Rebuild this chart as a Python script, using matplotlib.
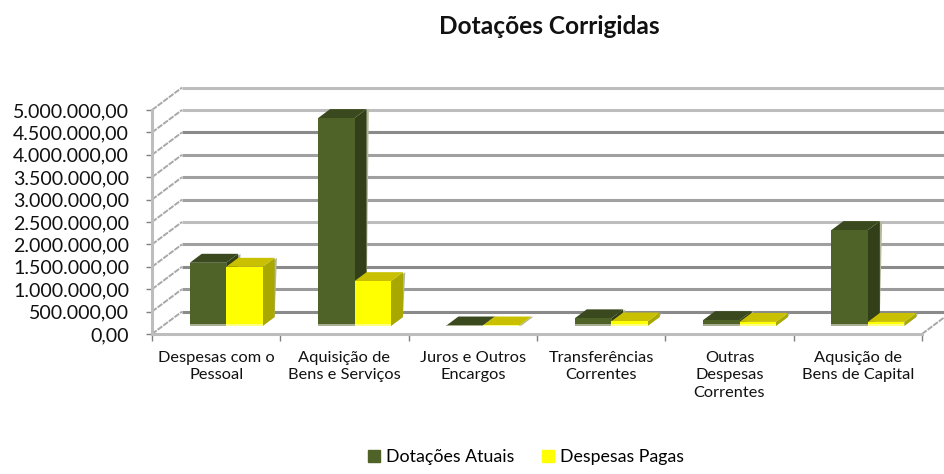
#!/usr/bin/env python3
"""Dotacoes Corrigidas: pseudo-3D clustered bars in the Excel style."""

import matplotlib

matplotlib.use("Agg")
import matplotlib.pyplot as plt
from matplotlib.patches import Patch, Polygon

categories = [
    "Despesas com o\nPessoal",
    "Aquisição de\nBens e Serviços",
    "Juros e Outros\nEncargos",
    "Transferências\nCorrentes",
    "Outras\nDespesas\nCorrentes",
    "Aqusição de\nBens de Capital",
]
dotacoes = [1410000, 4640000, 10000, 170000, 130000, 2140000]
despesas = [1320000, 1000000, 10000, 100000, 90000, 90000]
yticks = list(range(0, 5000001, 500000))
ytick_labels = [f"{v:,.2f}".replace(",", "X").replace(".", ",").replace("X", ".") for v in yticks]
grid_colors = ["#8a8a8a", "#9a9a9a", "#8a8a8a", "#a0a0a0", "#bdbdbd",
               "#a0a0a0", "#a0a0a0", "#a0a0a0", "#8a8a8a", "#bdbdbd", "#bdbdbd"]

# one unit of depth = one gridline step up, 30 px to the right
DX = 30 / 128.4
DY = 500000
BAR_W = 0.284
D_FRONT = 0.36
D_BACK = 0.76

plt.rcParams["font.family"] = ["Lato", "DejaVu Sans"]

W, H = 944, 474
fig = plt.figure(figsize=(W / 100, H / 100), dpi=100)
ax = fig.add_axes([152 / W, 1 - 334 / H, 770 / W, 224 / H])
ax.set_xlim(-0.5, 5.5)
ax.set_ylim(0, 5000000)


def proj(x, v, d):
    return (x + d * DX, v + d * DY)


def poly(pts, color, z=3, edge="none"):
    ax.add_patch(Polygon(pts, closed=True, facecolor=color, edgecolor=edge, lw=0.8,
                         zorder=z, clip_on=False))


def bar3d(x0, value, front, top, side, z):
    x1 = x0 + BAR_W
    # light halo on the right and bottom edges
    poly([proj(x1, 0, D_FRONT), proj(x1, 0, D_BACK), proj(x1 + 0.018, value, D_BACK),
          proj(x1 + 0.018, value, D_FRONT)], "#b4b89c", z)
    poly([proj(x1, 0, D_FRONT), proj(x1, 0, D_BACK), proj(x1, value, D_BACK),
          proj(x1, value, D_FRONT)], side, z)
    poly([proj(x0, value, D_FRONT), proj(x1, value, D_FRONT), proj(x1, value, D_BACK),
          proj(x0, value, D_BACK)], top, z)
    poly([proj(x0, 0, D_FRONT), proj(x1, 0, D_FRONT), proj(x1, value, D_FRONT),
          proj(x0, value, D_FRONT)], front, z + 0.1)
    base = min(value, 50000)
    poly([proj(x0, 0, D_FRONT), proj(x1, 0, D_FRONT), proj(x1, base, D_FRONT),
          proj(x0, base, D_FRONT)], "#a9ad92" if front != "#ffff00" else "#ffff80", z + 0.2)


# back wall gridlines and slanted wall/floor lines
for v, c in zip(yticks, grid_colors):
    ax.plot(*zip(proj(-0.5, v, 1), proj(5.5, v, 1)), color=c, lw=2.2, zorder=1, clip_on=False,
            solid_capstyle="butt")
    ax.plot(*zip(proj(-0.5, v, 0), proj(-0.5, v, 1)), color="#a8a8a8", lw=1.4, ls=(0, (3, 0.6)),
            zorder=1, clip_on=False)
ax.plot(*zip(proj(5.5, 0, 0), proj(5.5, 0, 0.75)), color="#a8a8a8", lw=1.4, ls=(0, (3, 0.6)),
        zorder=1, clip_on=False)

for i, (a, b) in enumerate(zip(dotacoes, despesas)):
    x0 = i - 0.5 + 0.21
    bar3d(x0, a, "#4f6228", "#3b4a1e", "#333f18", 3 + i)
    bar3d(x0 + BAR_W, b, "#ffff00", "#c8c000", "#a8a800", 3.5 + i)

for s in ("top", "right"):
    ax.spines[s].set_visible(False)
for s in ("left", "bottom"):
    ax.spines[s].set_color("#bdbdbd")
    ax.spines[s].set_linewidth(2.2)
    ax.spines[s].set_zorder(2)

ax.set_yticks(yticks, ytick_labels, fontsize=14.1, color="#111111")
ax.set_xticks([x - 0.5 for x in range(7)], minor=False, labels=[""] * 7)
ax.set_xticks(range(6), categories, minor=True, fontsize=11.8, color="#111111",
              linespacing=1.33)
ax.tick_params(axis="y", length=4.5, width=1, color="#808080", pad=12)
ax.tick_params(axis="x", which="major", length=5, width=1, color="#808080")
ax.tick_params(axis="x", which="minor", length=0, pad=12)

fig.text(549 / W, 1 - 26 / H, "Dotações Corrigidas", ha="center", va="center",
         fontsize=17.6, fontweight="bold", color="#111111")

handles = [Patch(color="#4f6228"), Patch(color="#ffff00")]
fig.legend(handles, ["Dotações Atuais", "Despesas Pagas"], loc="center",
           bbox_to_anchor=(526 / W, 1 - 457 / H), ncol=2, frameon=False, fontsize=12.8,
           handlelength=0.67, handleheight=0.67, handletextpad=0.34, columnspacing=1.57)

fig.savefig("out.png", dpi=100)
